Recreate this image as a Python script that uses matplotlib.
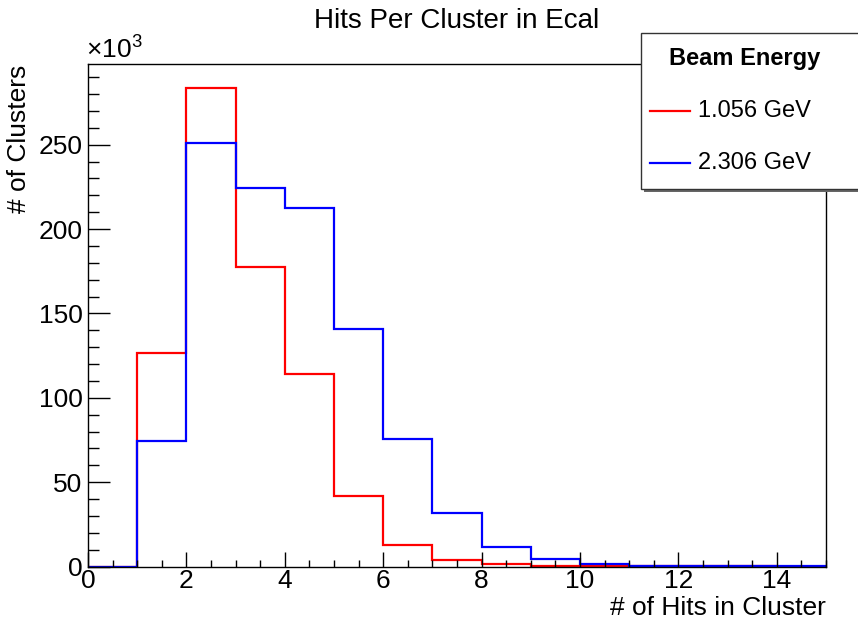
import numpy as np
import matplotlib
matplotlib.use("Agg")
import matplotlib.pyplot as plt
from matplotlib.patches import Rectangle
from matplotlib.lines import Line2D
from matplotlib.ticker import MultipleLocator

plt.rcParams['font.family'] = ['Liberation Sans', 'DejaVu Sans']
plt.rcParams['mathtext.fontset'] = 'custom'
plt.rcParams['mathtext.rm'] = 'Liberation Sans'

# hits per cluster, bins 0..15 (counts in thousands)
edges = np.arange(0, 16)
hits_1056 = [0, 126.8, 283.5, 177.8, 114.3, 41.9, 12.8, 3.9, 1.5, 0.5, 0.2, 0.05, 0.02, 0.01, 0.0]
hits_2306 = [0, 74.5, 250.9, 224.2, 212.3, 141.0, 75.7, 31.8, 11.6, 4.5, 1.5, 0.5, 0.2, 0.1, 0.05]
labels = ['1.056 GeV', '2.306 GeV']
colors = ['#ff0000', '#0000ff']

W, H = 858, 623
fig = plt.figure(figsize=(W / 100, H / 100), dpi=100)
ax = fig.add_axes([88 / W, 1 - 566.5 / H, (826 - 88) / W, (566.5 - 64.3) / H])

for vals, c in zip([hits_1056, hits_2306], colors):
    ax.stairs(vals, edges, color=c, linewidth=1.6)

ax.set_xlim(0, 15)
ax.set_ylim(0, 1.05 * max(hits_1056))

ax.xaxis.set_major_locator(MultipleLocator(2))
ax.xaxis.set_minor_locator(MultipleLocator(0.5))
ax.yaxis.set_major_locator(MultipleLocator(50))
ax.yaxis.set_minor_locator(MultipleLocator(10))
ax.tick_params(axis='x', which='major', direction='in', length=10.8, width=1, labelsize=19, pad=2)
ax.tick_params(axis='x', which='minor', direction='in', length=5.4, width=1)
ax.tick_params(axis='y', which='major', direction='in', length=15.8, width=1, labelsize=19, pad=4)
ax.tick_params(axis='y', which='minor', direction='in', length=7.9, width=1)
for s in ax.spines.values():
    s.set_linewidth(1.0)

ax.set_xlabel('# of Hits in Cluster', fontsize=19, loc='right', labelpad=2)
ax.set_ylabel('# of Clusters', fontsize=19, loc='top', labelpad=5)
fig.text(86 / W, 1 - 49 / H, r'$\times$10$^{3}$', fontsize=19, ha='left', va='center')
fig.text(457 / W, 1 - 21 / H, 'Hits Per Cluster in Ecal', fontsize=20, ha='center', va='center')

# legend box (ROOT style, running off the right edge)
x0, y0, x1, y1 = 641 / W, 1 - 189 / H, 880 / W, 1 - 33 / H
fig.patches.append(Rectangle((x0 + 3 / W, y0 - 3 / H), x1 - x0, y1 - y0, transform=fig.transFigure,
                             facecolor='#666666', edgecolor='none', zorder=5))
fig.patches.append(Rectangle((x0, y0), x1 - x0, y1 - y0, transform=fig.transFigure,
                             facecolor='white', edgecolor='#333333', linewidth=1, zorder=6))
fig.text(745 / W, 1 - 58 / H, 'Beam Energy', fontsize=17, fontweight='bold', ha='center', va='center', zorder=7)
for lab, c, yp in zip(labels, colors, [111, 163]):
    fig.lines.append(Line2D([650 / W, 690 / W], [1 - yp / H] * 2, transform=fig.transFigure,
                            color=c, linewidth=1.6, zorder=7))
    fig.text(698 / W, 1 - yp / H, lab, fontsize=17, ha='left', va='center', zorder=7)

fig.savefig('out.png', dpi=100)
